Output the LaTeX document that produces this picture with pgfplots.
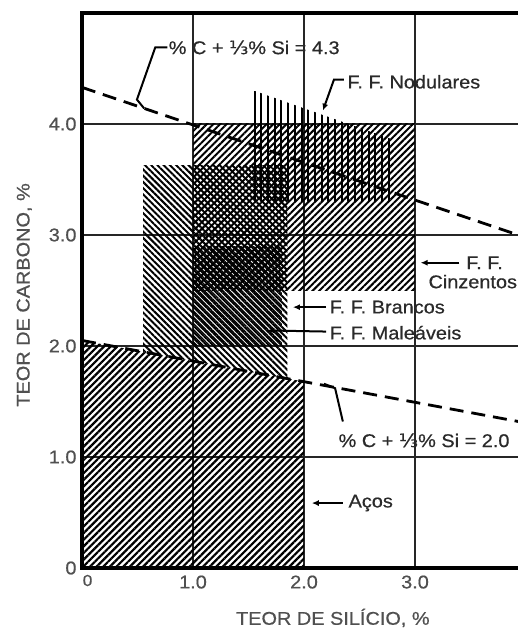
\documentclass[border=0pt]{standalone}
\usepackage{fontspec}
\setmainfont{Liberation Sans}[FakeStretch=1.08,FakeBold=0.6]
\newfontfamily\dejavu{DejaVu Sans}[FakeStretch=1.08,FakeBold=0.6]
\usepackage{pgfplots}
\pgfplotsset{compat=1.18}
\usetikzlibrary{patterns.meta,arrows.meta}
\newcommand\ann{\fontsize{18.5}{20}\selectfont}
\definecolor{txt}{HTML}{2A2A2A}
\definecolor{tck}{HTML}{505050}
\begin{document}
\begin{tikzpicture}
\begin{axis}[
  x=111bp, y=111bp,
  xmin=0, xmax=3.93, ymin=0, ymax=5,
  clip=false,
  axis line style={draw=none},
  major tick length=0pt,
  xtick={1,2,3}, xticklabels={1.0,2.0,3.0},
  ytick={0,1,2,3,4}, yticklabels={0,1.0,2.0,3.0,4.0},
  /pgf/number format/assume math mode=true,
  ticklabel style={font=\ann, text=tck},
  xticklabel style={yshift=-4bp},
  yticklabel style={xshift=-2bp},
  grid=major,
  major grid style={draw=black!85, line width=1.5bp},
]
% Acos
\addplot[draw=none, pattern={Lines[angle=45,distance=4.7bp,line width=2.2bp]}]
  coordinates {(0,0) (0,2.05) (2,1.679) (2,0)} -- cycle;
% Brancos
\addplot[draw=none, pattern={Lines[angle=-45,distance=4.4bp,line width=2bp]}]
  coordinates {(0.55,1.948) (0.55,3.63) (1.85,3.63) (1.85,1.706)} -- cycle;
% Cinzentos
\addplot[draw=none, pattern={Lines[angle=45,distance=4.7bp,line width=2bp]}]
  coordinates {(1,2.5) (1,4.0) (3,4.0) (3,2.5)} -- cycle;
% Maleaveis
\addplot[draw=none, pattern={Lines[angle=-45,distance=4.4bp,line width=1.4bp,xshift=2.2bp]}]
  coordinates {(1,2.0) (1,2.9) (1.8,2.9) (1.8,2.0)} -- cycle;
% Nodulares
\addplot[draw=none, pattern={Lines[angle=90,distance=6.7bp,line width=2bp]}]
  coordinates {(1.55,3.3) (1.55,4.3) (2.8,3.86) (2.8,3.3)} -- cycle;
% dashed lines
\addplot[black, line width=2.8bp, dash pattern=on 14bp off 8bp] coordinates {(0,4.33) (3.93,3.0)};
\addplot[black, line width=2.8bp, dash pattern=on 14bp off 8bp] coordinates {(0,2.05) (3.93,1.32)};
% frame
\draw[line width=4bp, line cap=rect] (axis cs:3.93,5) -- (axis cs:0,5) -- (axis cs:0,0) -- (axis cs:3.93,0);
% tick zero on x
\node[font=\ann, text=tck, anchor=north] at (axis cs:0.05,-0.03) {\fontsize{16}{16}\selectfont 0};
% labels
\node[font=\ann, text=tck, rotate=90] at (axis cs:-0.52,2.46) {TEOR DE CARBONO, \%};
\node[font=\ann, text=tck] at (axis cs:2.26,-0.45) {TEOR DE SILÍCIO, \%};
% annotations
\node[font=\ann, text=txt, anchor=west, inner sep=0pt] at (axis cs:0.78,4.69) {\% C + {\dejavu ⅓}\% Si = 4.3};
\draw[line width=2bp] (axis cs:0.77,4.69) -- (axis cs:0.66,4.69) -- (axis cs:0.495,4.22) -- (axis cs:0.56,4.14);
\node[font=\ann, text=txt, anchor=west, inner sep=0pt] at (axis cs:2.39,4.38) {F. F. Nodulares};
\draw[line width=2bp, -{Latex[length=7bp,width=6bp]}] (axis cs:2.36,4.40) -- (axis cs:2.27,4.40) -- (axis cs:2.17,4.12);
\node[font=\ann, text=txt, anchor=west, inner sep=0pt] at (axis cs:3.46,2.75) {F. F.};
\node[font=\ann, text=txt, anchor=west, inner sep=0pt] at (axis cs:3.12,2.58) {Cinzentos};
\draw[line width=2bp, -{Latex[length=7bp,width=6bp]}] (axis cs:3.40,2.75) -- (axis cs:3.05,2.75);
\node[font=\ann, text=txt, anchor=west, inner sep=0pt] at (axis cs:2.23,2.35) {F. F. Brancos};
\draw[line width=2bp, -{Latex[length=7bp,width=6bp]}] (axis cs:2.20,2.35) -- (axis cs:1.90,2.35);
\node[font=\ann, text=txt, anchor=west, inner sep=0pt] at (axis cs:2.23,2.12) {F. F. Maleáveis};
\draw[line width=2bp, -{Latex[length=7bp,width=6bp]}] (axis cs:2.20,2.13) -- (axis cs:1.67,2.14);
\node[font=\ann, text=txt, anchor=west, inner sep=0pt] at (axis cs:2.31,1.15) {\% C + {\dejavu ⅓}\% Si = 2.0};
\draw[line width=2bp] (axis cs:2.35,1.32) -- (axis cs:2.28,1.62) -- (axis cs:2.18,1.66);
\node[font=\ann, text=txt, anchor=west, inner sep=0pt] at (axis cs:2.40,0.585) {Aços};
\draw[line width=2bp, -{Latex[length=7bp,width=6bp]}] (axis cs:2.35,0.585) -- (axis cs:2.07,0.585);
\coordinate (O) at (axis cs:0,0);
\end{axis}
\pgfresetboundingbox
\path[use as bounding box] ([shift={(-82bp,-62bp)}]O) rectangle ([shift={(436bp,568bp)}]O);
\end{tikzpicture}
\end{document}
